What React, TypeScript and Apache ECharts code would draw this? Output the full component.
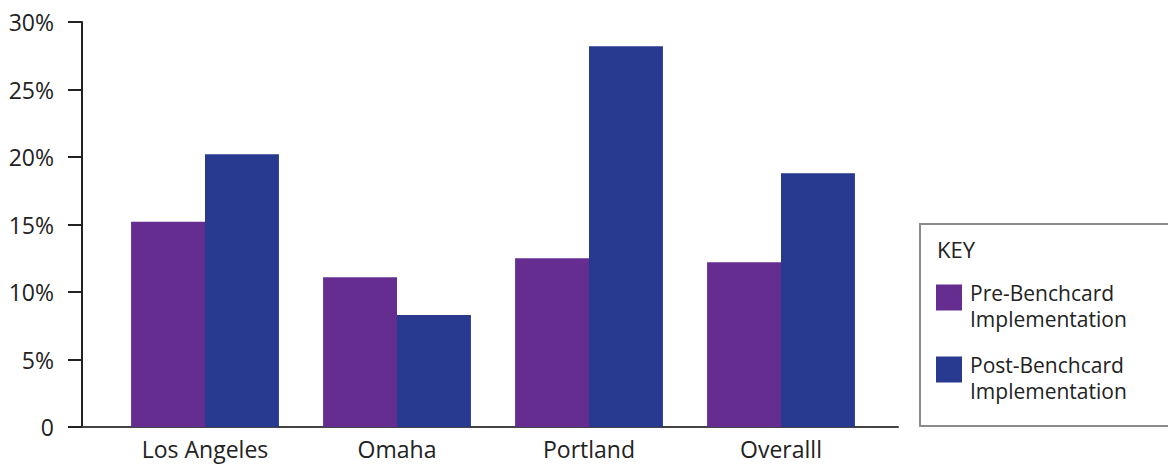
import React, { useEffect, useRef } from "react";
import * as echarts from "echarts";

const categories = ["Los Angeles", "Omaha", "Portland", "Overalll"];
const preValues = [15.2, 11.1, 12.5, 12.2];
const postValues = [20.2, 8.3, 28.2, 18.8];
const seriesNames = ["Pre-Benchcard\nImplementation", "Post-Benchcard\nImplementation"];
const yTicks = [0, 5, 10, 15, 20, 25, 30];

const FONT = "Open Sans";
const TEXT = "#222222";
// square swatch drawn in the upper part of a taller icon box, so the text sits lower
const SWATCH = "path://M0,0L26,0L26,26L0,26Z M0,43L0.01,43Z";

export default function App() {
  const ref = useRef<HTMLDivElement>(null);
  useEffect(() => {
    if (!ref.current) return;
    const chart = echarts.init(ref.current, undefined, { renderer: "svg" });
    chart.setOption({
      animation: false,
      backgroundColor: "#ffffff",
      textStyle: { fontFamily: FONT },
      grid: [
        { left: 109, right: 291, top: 22, bottom: 39 },
        { left: 69, right: 270, top: 22, bottom: 39 },
      ],
      xAxis: [
        {
          type: "category",
          gridIndex: 0,
          data: categories,
          axisLine: { show: false },
          axisTick: { show: false },
          axisLabel: { fontSize: 23, color: TEXT, margin: 10, fontFamily: FONT },
        },
        {
          type: "value",
          gridIndex: 1,
          min: 0,
          max: 1,
          axisLine: { show: true, lineStyle: { color: "#444444", width: 2 } },
          axisTick: { show: false },
          axisLabel: { show: false },
          splitLine: { show: false },
        },
      ],
      yAxis: [
        {
          type: "value",
          gridIndex: 0,
          min: yTicks[0],
          max: yTicks[yTicks.length - 1],
          interval: 5,
          offset: 27,
          axisLine: { show: true, lineStyle: { color: "#222222", width: 2 } },
          axisTick: { show: true, length: 14, lineStyle: { color: "#222222", width: 2 } },
          splitLine: { show: false },
          axisLabel: {
            fontSize: 23,
            color: TEXT,
            margin: 28,
            fontFamily: FONT,
            formatter: (v: number) => (v === 0 ? "0" : v + "%"),
          },
        },
        {
          type: "value",
          gridIndex: 1,
          show: false,
          min: 0,
          max: 1,
        },
      ],
      legend: {
        orient: "vertical",
        left: 936,
        top: 280,
        padding: 0,
        itemWidth: 26,
        itemHeight: 43,
        itemGap: 20,
        icon: SWATCH,
        data: seriesNames,
        itemStyle: { borderWidth: 0 },
        textStyle: {
          fontSize: 21,
          color: TEXT,
          fontFamily: FONT,
          lineHeight: 26,
          padding: [0, 0, 0, 3],
        },
      },
      graphic: [
        {
          type: "rect",
          shape: { x: 920, y: 224, width: 270, height: 202 },
          style: { fill: "none", stroke: "#8c8c8c", lineWidth: 2 },
          silent: true,
        },
        {
          type: "text",
          left: 937,
          top: 238,
          style: { text: "KEY", fontSize: 22, fill: TEXT, fontFamily: FONT },
        },
      ],
      series: [
        {
          name: seriesNames[0],
          type: "bar",
          xAxisIndex: 0,
          yAxisIndex: 0,
          data: preValues,
          barGap: "0%",
          barCategoryGap: "23%",
          itemStyle: { color: "#652D90" },
        },
        {
          name: seriesNames[1],
          type: "bar",
          xAxisIndex: 0,
          yAxisIndex: 0,
          data: postValues,
          barGap: "0%",
          barCategoryGap: "23%",
          itemStyle: { color: "#283990" },
        },
      ],
    });
    return () => chart.dispose();
  }, []);
  return (
    <div
      ref={ref}
      style={{ position: "absolute", left: 0, top: 0, width: 1168, height: 466 }}
    />
  );
}
